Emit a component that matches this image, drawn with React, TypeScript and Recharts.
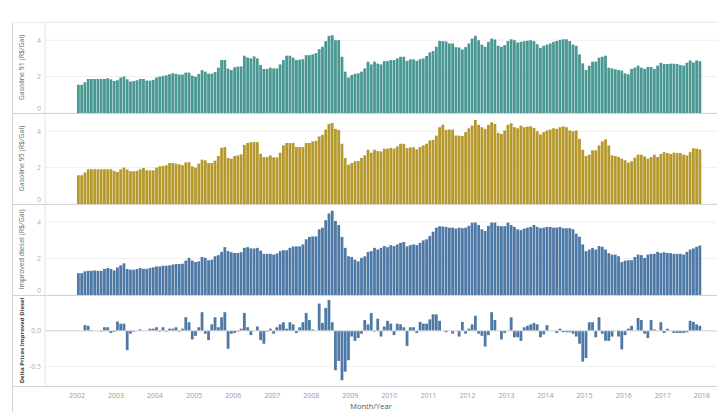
import React from 'react';
import { BarChart, Bar, XAxis, YAxis, CartesianGrid, ReferenceLine } from 'recharts';

const years = [2002, 2003, 2004, 2005, 2006, 2007, 2008, 2009, 2010, 2011, 2012, 2013, 2014, 2015, 2016, 2017];
const monthNums = ['01', '02', '03', '04', '05', '06', '07', '08', '09', '10', '11', '12'];

// R$/Gal, one row per year
const gasoline91 = [
  1.55, 1.55, 1.69, 1.87, 1.87, 1.87, 1.87, 1.87, 1.87, 1.91, 1.85, 1.76,
  1.80, 1.95, 2.00, 1.85, 1.73, 1.76, 1.80, 1.87, 1.87, 1.78, 1.78, 1.82,
  1.95, 2.00, 2.04, 2.07, 2.13, 2.18, 2.15, 2.11, 2.11, 2.22, 2.22, 2.05,
  2.00, 2.15, 2.36, 2.27, 2.16, 2.16, 2.25, 2.49, 2.91, 2.91, 2.44, 2.36,
  2.51, 2.55, 2.56, 3.15, 3.05, 3.00, 3.11, 3.00, 2.64, 2.42, 2.42, 2.49,
  2.45, 2.45, 2.67, 2.91, 3.15, 3.15, 3.04, 2.91, 2.93, 2.96, 3.18, 3.18,
  3.22, 3.29, 3.51, 3.64, 3.95, 4.24, 4.27, 4.00, 4.00, 3.09, 2.27, 1.95,
  2.09, 2.15, 2.18, 2.27, 2.45, 2.82, 2.67, 2.82, 2.71, 2.67, 2.85, 2.85,
  2.91, 2.91, 3.00, 3.09, 3.09, 2.87, 2.95, 2.95, 2.87, 2.96, 3.00, 3.13,
  3.33, 3.40, 3.64, 3.96, 3.95, 3.93, 3.82, 3.82, 3.62, 3.60, 3.49, 3.62,
  3.82, 4.09, 4.24, 4.00, 3.76, 3.64, 3.91, 4.09, 4.04, 3.69, 3.64, 3.73,
  3.95, 4.05, 4.00, 3.87, 3.91, 3.95, 3.97, 4.00, 3.95, 3.78, 3.58, 3.69,
  3.76, 3.82, 3.91, 3.96, 4.02, 4.05, 4.05, 3.95, 3.76, 3.69, 3.22, 2.73,
  2.36, 2.60, 2.82, 2.82, 3.04, 3.09, 3.15, 2.49, 2.45, 2.40, 2.36, 2.33,
  2.18, 2.13, 2.42, 2.49, 2.60, 2.49, 2.42, 2.53, 2.53, 2.42, 2.60, 2.76,
  2.69, 2.69, 2.71, 2.71, 2.69, 2.64, 2.60, 2.76, 2.89, 2.78, 2.89, 2.85,
];

const gasoline95 = [
  1.58, 1.58, 1.73, 1.91, 1.91, 1.91, 1.91, 1.91, 1.91, 1.91, 1.91, 1.82,
  1.76, 1.91, 2.00, 1.89, 1.80, 1.80, 1.82, 1.91, 1.98, 1.85, 1.85, 1.85,
  2.00, 2.07, 2.09, 2.13, 2.25, 2.25, 2.22, 2.18, 2.13, 2.29, 2.29, 2.07,
  2.00, 2.22, 2.44, 2.40, 2.25, 2.25, 2.38, 2.64, 3.09, 3.13, 2.53, 2.49,
  2.64, 2.67, 2.73, 3.25, 3.35, 3.40, 3.40, 3.40, 2.76, 2.58, 2.58, 2.67,
  2.56, 2.56, 2.82, 3.22, 3.35, 3.35, 3.35, 3.13, 3.13, 3.13, 3.36, 3.35,
  3.44, 3.47, 3.71, 3.80, 4.09, 4.40, 4.45, 4.13, 4.07, 3.31, 2.53, 2.16,
  2.25, 2.35, 2.36, 2.53, 2.67, 2.98, 2.82, 2.98, 2.91, 2.89, 3.04, 3.04,
  3.09, 3.04, 3.16, 3.31, 3.31, 3.07, 3.11, 3.11, 3.00, 3.13, 3.22, 3.31,
  3.49, 3.53, 3.76, 4.22, 4.36, 4.07, 4.09, 4.09, 3.76, 3.76, 3.73, 3.95,
  4.16, 4.31, 4.62, 4.35, 4.22, 4.13, 4.35, 4.49, 4.40, 3.91, 3.85, 4.04,
  4.35, 4.44, 4.22, 4.16, 4.31, 4.22, 4.25, 4.27, 4.18, 4.00, 3.82, 3.95,
  4.04, 4.09, 4.16, 4.13, 4.22, 4.27, 4.22, 4.04, 4.00, 4.04, 3.58, 2.98,
  2.64, 2.71, 2.95, 2.95, 3.22, 3.44, 3.55, 3.22, 2.67, 2.64, 2.58, 2.49,
  2.40, 2.27, 2.35, 2.55, 2.71, 2.71, 2.62, 2.49, 2.58, 2.71, 2.58, 2.75,
  2.85, 2.80, 2.75, 2.82, 2.80, 2.80, 2.71, 2.67, 2.85, 3.07, 3.04, 3.00,
];

const improvedDiesel = [
  1.20, 1.20, 1.30, 1.33, 1.33, 1.35, 1.33, 1.33, 1.43, 1.48, 1.43, 1.35,
  1.52, 1.63, 1.74, 1.43, 1.39, 1.39, 1.43, 1.48, 1.44, 1.44, 1.48, 1.52,
  1.57, 1.57, 1.61, 1.61, 1.63, 1.67, 1.70, 1.70, 1.72, 1.89, 2.04, 1.89,
  1.81, 1.85, 2.09, 2.04, 1.91, 1.94, 2.13, 2.19, 2.37, 2.63, 2.41, 2.35,
  2.31, 2.31, 2.35, 2.59, 2.63, 2.56, 2.56, 2.59, 2.44, 2.26, 2.26, 2.26,
  2.22, 2.28, 2.41, 2.46, 2.46, 2.59, 2.67, 2.67, 2.67, 2.78, 3.06, 3.19,
  3.22, 3.22, 3.61, 3.70, 4.11, 4.48, 4.63, 4.07, 3.85, 3.19, 2.59, 2.13,
  2.09, 1.94, 1.85, 2.04, 2.13, 2.37, 2.41, 2.59, 2.50, 2.59, 2.69, 2.63,
  2.74, 2.69, 2.78, 2.87, 2.91, 2.67, 2.74, 2.78, 2.74, 2.87, 3.00, 3.06,
  3.24, 3.48, 3.70, 3.78, 3.76, 3.74, 3.70, 3.70, 3.65, 3.70, 3.67, 3.70,
  3.80, 3.98, 3.98, 3.85, 3.61, 3.52, 3.80, 3.98, 3.98, 3.80, 3.78, 3.78,
  3.98, 3.85, 3.74, 3.61, 3.57, 3.65, 3.70, 3.74, 3.85, 3.74, 3.67, 3.70,
  3.74, 3.74, 3.70, 3.70, 3.74, 3.67, 3.67, 3.67, 3.61, 3.37, 3.20, 2.78,
  2.41, 2.50, 2.59, 2.50, 2.69, 2.65, 2.50, 2.30, 2.22, 2.22, 2.13, 1.81,
  1.89, 1.91, 1.91, 2.09, 2.22, 2.19, 2.04, 2.22, 2.26, 2.26, 2.37, 2.31,
  2.35, 2.31, 2.30, 2.26, 2.26, 2.26, 2.22, 2.37, 2.50, 2.56, 2.65, 2.72,
];

const deltaDiesel = [
  0, 0, 0.08, 0.07, 0.01, 0, 0, -0.01, 0.05, 0.05, -0.03, -0.015,
  0.13, 0.1, 0.1, -0.27, -0.04, -0.01, 0, 0.02, 0, 0, 0.03, 0.03,
  0.05, -0.01, 0.05, -0.01, 0.03, 0.03, 0.05, -0.01, 0.03, 0.19, 0.12, -0.12,
  -0.07, 0.05, 0.26, -0.04, -0.13, 0.09, 0.19, 0.05, 0.19, 0.26, -0.25, -0.04,
  -0.03, -0.01, 0.03, 0.25, 0.05, -0.06, 0, 0.06, -0.13, -0.18, -0.01, 0.03,
  -0.04, 0.05, 0.09, 0.12, 0.03, 0.12, 0.09, -0.03, 0.05, 0.12, 0.25, 0.15,
  0.02, 0, 0.38, 0.11, 0.32, 0.43, 0.12, -0.55, -0.42, -0.69, -0.57, -0.41,
  -0.08, -0.14, -0.1, -0.04, 0.15, 0.09, 0.25, -0.01, 0.17, -0.08, 0.06, 0.14,
  0.1, -0.06, 0.1, 0.09, 0.05, -0.21, 0.05, 0.05, -0.03, 0.125, 0.1, 0.1,
  0.16, 0.23, 0.23, 0.14, 0, -0.02, 0, -0.04, 0, -0.08, 0.125, -0.04,
  0.03, 0.09, 0.21, -0.04, -0.07, -0.22, -0.06, 0.26, 0.15, 0, -0.12, -0.03,
  0, 0.19, -0.09, -0.09, -0.14, 0.05, 0.07, 0.09, 0.11, 0.09, -0.09, -0.05,
  0.08, 0, 0, -0.03, 0.03, -0.02, -0.02, -0.02, -0.04, -0.08, -0.18, -0.43,
  -0.38, 0.12, 0.12, -0.09, 0.19, -0.04, -0.14, -0.14, -0.08, 0, -0.08, -0.26,
  -0.06, 0.03, 0.07, 0, 0.18, 0.15, -0.04, -0.1, 0.15, 0.02, 0, 0.12,
  -0.03, 0.03, 0, -0.03, -0.03, -0.03, -0.03, -0.02, 0.14, 0.125, 0.09, 0.07,
];

const priceTicks = [0, 2, 4];
const deltaTicks = [-0.5, 0];

const months = years.flatMap((y) => monthNums.map((m) => `${y}-${m}`));
// closing boundary so the 2018 label sits at the end of the last bar
const allMonths = [...months, '2018-01'];
const yearTicks = allMonths.filter((m) => m.endsWith('-01'));

const data = allMonths.map((m, i) => ({
  m,
  g91: gasoline91[i],
  g95: gasoline95[i],
  dsl: improvedDiesel[i],
  dlt: deltaDiesel[i],
}));

const W = 717;
const PLOT_LEFT = 45;
const PAD_L = 32;
const PAD_R = 12;
const BAND = (W - PLOT_LEFT - PAD_L - PAD_R) / allMonths.length;
const FONT = '"Open Sans", sans-serif';

const YearTick = ({ x, y, payload }: any) => (
  <text x={x - BAND / 2} y={y} dy={9.5} textAnchor="middle" fontSize={7} fill="#9a9a9a" fontFamily={FONT}>
    {String(payload.value).slice(0, 4)}
  </text>
);

// price panels lift the "0" label off the pane border
const ValueTick = ({ x, y, payload, lift, fmt }: any) => (
  <text x={x} y={y + (lift && payload.value === 0 ? -5 : 0)} dy={2.5} textAnchor="end" fontSize={7} fill="#b0b0b0" fontFamily={FONT}>
    {fmt ? fmt(payload.value) : payload.value}
  </text>
);

interface PanelProps {
  dataKey: string;
  color: string;
  title: string;
  top: number;
  height: number;
  marginTop?: number;
  domain: [number, number];
  ticks: number[];
  showX?: boolean;
  bold?: boolean;
  fmt?: (v: number) => string;
}

const Panel = ({ dataKey, color, title, top, height, marginTop = 0, domain, ticks, showX, bold, fmt }: PanelProps) => (
  <div style={{ position: 'absolute', left: 0, top }}>
    <BarChart width={W} height={height} data={data} margin={{ top: marginTop, right: 0, bottom: 0, left: 12 }}>
      <CartesianGrid vertical={false} stroke="#efefef" />
      <XAxis
        dataKey="m"
        hide={!showX}
        ticks={yearTicks}
        interval={0}
        padding={{ left: PAD_L, right: PAD_R }}
        axisLine={false}
        tickLine={false}
        tickSize={0}
        height={26}
        tick={<YearTick />}
        label={{ value: 'Month/Year', position: 'insideBottom', offset: 3, dx: -10, style: { fontSize: 7.5, fill: '#555', fontFamily: FONT } }}
      />
      <YAxis
        width={33}
        domain={domain}
        ticks={ticks}
        interval={0}
        allowDataOverflow
        tickSize={0}
        tickMargin={4}
        tickLine={false}
        axisLine={{ stroke: '#e2e2e2' }}
        tick={<ValueTick lift={!fmt} fmt={fmt} />}
        label={{
          value: title,
          angle: -90,
          position: 'insideLeft',
          offset: 10,
          style: {
            textAnchor: 'middle',
            fontSize: bold ? 6 : 7,
            fill: bold ? '#444' : '#666',
            fontWeight: bold ? 700 : 400,
            fontFamily: FONT,
          },
        }}
      />
      {dataKey === 'dlt' && <ReferenceLine y={0} stroke="#d6d6d6" />}
      <Bar dataKey={dataKey} fill={color} barSize={2.8} isAnimationActive={false} />
    </BarChart>
  </div>
);

const line = (left: number, top: number, width: number, height: number, color: string) => (
  <div style={{ position: 'absolute', left, top, width, height, background: color }} />
);

export default function App() {
  return (
    <div style={{ position: 'absolute', left: 0, top: 0, width: W, height: 412, background: '#fff', fontFamily: FONT }}>
      <Panel dataKey="g91" color="#499894" title="Gasoline 91 (R$/Gal)" top={0} height={113} marginTop={22} domain={[0, 5]} ticks={priceTicks} />
      <Panel dataKey="g95" color="#B6992D" title="Gasoline 95 (R$/Gal)" top={113} height={91} domain={[0, 5]} ticks={priceTicks} />
      <Panel dataKey="dsl" color="#4E79A7" title="Improved diesel (R$/Gal)" top={204} height={91} domain={[0, 5]} ticks={priceTicks} />
      <Panel
        dataKey="dlt"
        color="#4E79A7"
        title="Delta Prices Improved Diesel"
        top={295}
        height={117}
        domain={[-0.77, 0.5]}
        ticks={deltaTicks}
        showX
        bold
        fmt={(v) => v.toFixed(1)}
      />
      {line(12, 22, 1, 390, '#d4d4d4')}
      {line(12, 22, W - 12, 1, '#ececec')}
      {line(12, 113, W - 12, 1, '#d4d4d4')}
      {line(12, 204, W - 12, 1, '#d4d4d4')}
      {line(12, 295, W - 12, 1, '#d4d4d4')}
      {line(12, 386, W - 12, 1, '#d4d4d4')}
    </div>
  );
}
